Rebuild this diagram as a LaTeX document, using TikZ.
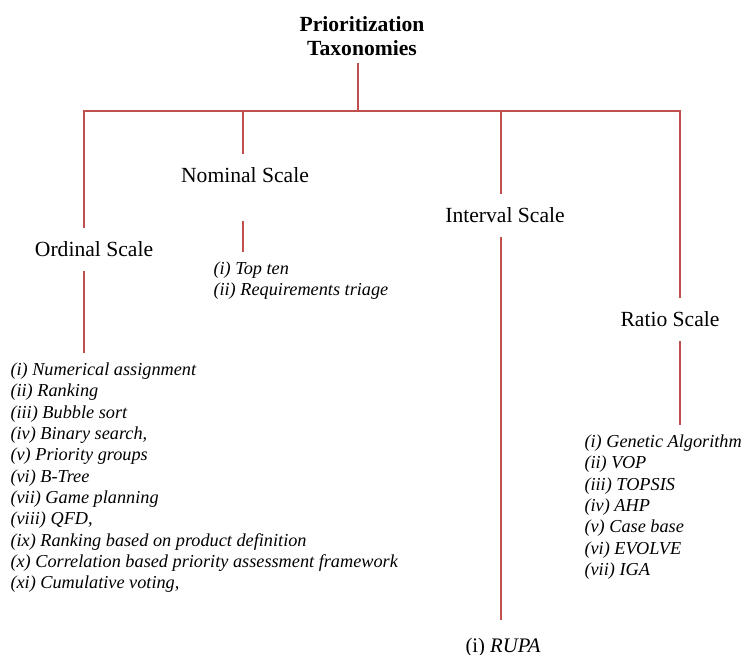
\documentclass[tikz,border=0pt]{standalone}
\usepackage{fontspec}
\setmainfont{Liberation Serif}
\definecolor{taxred}{RGB}{192,80,77}
\tikzset{every picture/.style={line width=0.75pt}}
\tikzset{
  branch/.style={draw=taxred, line width=1pt},
  scalelbl/.style={anchor=base, inner xsep=0pt, inner ysep=10pt, font=\fontsize{16.2}{19.4}\selectfont},
  itemlist/.style={anchor=north west, inner xsep=0pt, inner ysep=7pt, align=left, font=\fontsize{13.7}{16}\selectfont\itshape},
}

\begin{document}
\begin{tikzpicture}[x=0.75pt,y=0.75pt,yscale=-1,xscale=1]
\useasboundingbox (0,0) rectangle (742,655);

% Text Node
\node (ttl) [anchor=north, inner sep=0pt, align=center, font=\fontsize{16.2}{18}\selectfont\bfseries] at (362,16) {Prioritization\\Taxonomies};
% Text Node
\node (ord) [scalelbl] at (94,257) {Ordinal Scale};
% Text Node
\node (nom) [scalelbl] at (245,183) {Nominal Scale};
% Text Node
\node (int) [scalelbl] at (505,223) {Interval Scale};
% Text Node
\node (rat) [scalelbl] at (670,327) {Ratio Scale};
% Text Node
\node (ordlist) [itemlist] at (10,353) {(i) Numerical assignment\\
(ii) Ranking\\
(iii) Bubble sort\\
(iv) Binary search,\\
(v) Priority groups\\
(vi) B-Tree\\
(vii) Game planning\\
(viii) QFD,\\
(ix) Ranking based on product definition\\
(x) Correlation based priority assessment framework\\
(xi) Cumulative voting,};
% Text Node
\node (nomlist) [itemlist] at (213,252) {(i) Top ten\\
(ii) Requirements triage};
% Text Node
\node (ratlist) [itemlist] at (584,425) {(i) Genetic Algorithm\\
(ii) VOP\\
(iii) TOPSIS\\
(iv) AHP\\
(v) Case base\\
(vi) EVOLVE\\
(vii) IGA};
% Text Node
\node (rupa) [anchor=base, inner xsep=0pt, inner ysep=13pt, font=\fontsize{15.5}{18}\selectfont] at (503,652) {(i) \textit{RUPA}};

% Branch points on the bar
\coordinate (tb) at (358,111);
\coordinate (ob) at (84,111);
\coordinate (nb) at (243,111);
\coordinate (ib) at (501,111);
\coordinate (rb) at (680,111);

%Straight Lines
\draw [branch, shorten >=5pt] (tb) -- (tb |- ttl.south);
\draw [branch] (ob |- ord.north) -- (ob) -- (rb) -- (rb |- rat.north);
\draw [branch] (nb) -- (nb |- nom.north);
\draw [branch] (ib) -- (ib |- int.north);
%Straight Lines
\draw [branch] (ob |- ord.south) -- (ob |- ordlist.north);
\draw [branch, shorten <=18pt] (nb |- nom.south) -- (nb |- nomlist.north);
\draw [branch] (ib |- int.south) -- (ib |- rupa.north);
\draw [branch] (rb |- rat.south) -- (rb |- ratlist.north);

\end{tikzpicture}
\end{document}
